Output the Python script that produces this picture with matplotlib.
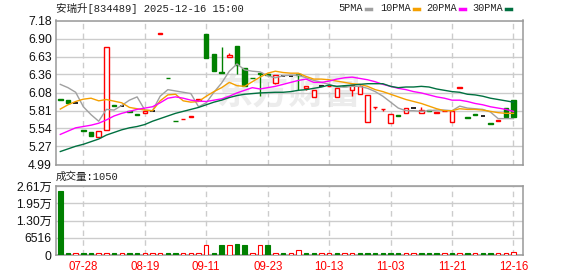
import numpy as np
import matplotlib.pyplot as plt
from matplotlib.lines import Line2D

plt.rcParams['font.family'] = ['DejaVu Sans', 'Noto Sans CJK SC']

###################
# 数据
###################

opens = [5.99, 5.98, 5.92, 5.51, 5.49, 5.41, 5.52, 5.89, 5.88, 5.80,
         5.76, 5.77, 5.81, 6.98, 6.31, 5.66, 5.68, 5.72, 5.98, 6.97,
         6.67, 6.40, 6.62, 6.79, 6.46, 6.31, 6.39, 6.36, 6.23, 6.34,
         6.34, 6.36, 6.15, 6.02, 6.18, 6.18, 6.02, 6.19, 6.12, 6.06,
         5.64, 5.86, 5.83, 5.62, 5.74, 5.77, 5.85, 5.78, 5.82, 5.78,
         5.80, 5.64, 6.16, 5.71, 5.76, 5.73, 5.62, 5.66, 5.85, 5.97]
highs = [5.99, 5.98, 5.92, 5.51, 5.49, 5.50, 6.78, 5.89, 5.88, 5.80,
         5.76, 5.81, 5.81, 6.99, 6.31, 5.66, 5.69, 5.73, 5.99, 6.97,
         6.67, 6.77, 6.69, 6.79, 6.46, 6.31, 6.39, 6.36, 6.35, 6.34,
         6.34, 6.36, 6.18, 6.13, 6.18, 6.19, 6.16, 6.19, 6.20, 6.20,
         6.05, 5.87, 5.84, 5.76, 5.74, 5.85, 5.85, 5.87, 5.82, 5.79,
         5.81, 5.80, 6.17, 5.71, 5.76, 5.73, 5.62, 5.67, 5.85, 5.97]
lows = [5.98, 5.92, 5.92, 5.50, 5.43, 5.41, 5.52, 5.88, 5.88, 5.79,
        5.75, 5.77, 5.81, 6.98, 6.30, 5.65, 5.68, 5.72, 5.98, 6.61,
        6.42, 6.39, 6.62, 6.37, 6.19, 6.30, 6.04, 6.35, 6.22, 6.34,
        6.34, 6.12, 6.13, 6.02, 6.18, 6.18, 6.02, 6.18, 6.04, 6.06,
        5.64, 5.83, 5.80, 5.62, 5.73, 5.77, 5.85, 5.78, 5.81, 5.78,
        5.80, 5.64, 6.16, 5.70, 5.74, 5.73, 5.61, 5.66, 5.72, 5.72]
closes = [5.98, 5.92, 5.92, 5.50, 5.43, 5.50, 6.78, 5.88, 5.88, 5.79,
          5.75, 5.81, 5.81, 6.99, 6.30, 5.65, 5.69, 5.73, 5.99, 6.61,
          6.42, 6.39, 6.65, 6.51, 6.19, 6.30, 6.37, 6.35, 6.35, 6.34,
          6.34, 6.35, 6.18, 6.13, 6.18, 6.19, 6.16, 6.18, 6.20, 6.19,
          6.05, 5.87, 5.84, 5.76, 5.73, 5.85, 5.85, 5.82, 5.81, 5.79,
          5.81, 5.80, 6.17, 5.70, 5.74, 5.73, 5.61, 5.67, 5.72, 5.72]
volumes = [24170, 600, 600, 600, 600, 600, 600, 600, 600, 600,
           600, 600, 600, 600, 600, 600, 600, 600, 600, 3780,
           880, 3780, 3780, 4150, 3780, 800, 3780, 3780, 600, 600,
           600, 1760, 600, 600, 600, 600, 600, 600, 600, 600,
           600, 600, 600, 600, 600, 600, 600, 600, 600, 600,
           600, 600, 600, 600, 600, 600, 600, 600, 600, 1050]

# 均线
ma5 = [6.21, 6.16, 6.09, 5.87, 5.75, 5.65, 5.83, 5.82, 5.89, 5.97,
       6.02, 5.82, 5.81, 6.03, 6.13, 6.11, 6.09, 6.07, 5.87, 5.93,
       6.09, 6.23, 6.41, 6.52, 6.43, 6.41, 6.40, 6.34, 6.31, 6.34,
       6.35, 6.35, 6.31, 6.27, 6.24, 6.21, 6.17, 6.17, 6.18, 6.18,
       6.15, 6.10, 6.03, 5.94, 5.85, 5.81, 5.81, 5.80, 5.81, 5.82,
       5.82, 5.81, 5.88, 5.85, 5.84, 5.83, 5.79, 5.69, 5.69, 5.69]
ma10 = [5.835, 5.90, 5.95, 5.985, 6.00, 5.96, 5.98, 5.955, 5.93, 5.86,
        5.84, 5.82, 5.81, 5.96, 6.05, 6.06, 5.96, 5.94, 5.95, 6.03,
        6.10, 6.16, 6.24, 6.19, 6.18, 6.25, 6.32, 6.38, 6.41, 6.39,
        6.38, 6.38, 6.33, 6.29, 6.29, 6.28, 6.26, 6.24, 6.22, 6.21,
        6.18, 6.13, 6.10, 6.06, 6.02, 5.98, 5.95, 5.92, 5.88, 5.84,
        5.81, 5.81, 5.84, 5.83, 5.83, 5.82, 5.80, 5.78, 5.77, 5.77]
ma20 = [5.45, 5.50, 5.55, 5.57, 5.59, 5.62, 5.67, 5.73, 5.77, 5.80,
        5.83, 5.85, 5.87, 5.93, 6.00, 6.02, 6.00, 5.97, 5.955, 5.95,
        5.97, 5.99, 6.03, 6.08, 6.12, 6.16, 6.14, 6.16, 6.18, 6.21,
        6.24, 6.27, 6.29, 6.24, 6.24, 6.26, 6.29, 6.31, 6.32, 6.30,
        6.28, 6.25, 6.21, 6.18, 6.15, 6.13, 6.10, 6.08, 6.05, 6.02,
        6.00, 5.97, 5.97, 5.95, 5.92, 5.90, 5.87, 5.85, 5.83, 5.80]
ma30 = [5.19, 5.23, 5.27, 5.30, 5.34, 5.38, 5.44, 5.48, 5.52, 5.55,
        5.57, 5.60, 5.65, 5.69, 5.73, 5.77, 5.80, 5.83, 5.86, 5.90,
        5.94, 5.97, 6.01, 6.04, 6.06, 6.07, 6.08, 6.085, 6.09, 6.09,
        6.10, 6.12, 6.13, 6.15, 6.17, 6.20, 6.18, 6.19, 6.20, 6.21,
        6.22, 6.22, 6.22, 6.18, 6.16, 6.17, 6.17, 6.18, 6.17, 6.14,
        6.12, 6.10, 6.09, 6.06, 6.05, 6.03, 6.00, 5.98, 5.96, 5.94]

ma_names = ['5PMA', '10PMA', '20PMA', '30PMA']
ma_colors = ['#a0a0a0', '#f5a000', '#ff00ff', '#007040']

tick_idx = [3, 11, 19, 27, 35, 43, 51, 59]
tick_labels = ['07-28', '08-19', '09-11', '09-23', '10-13', '11-03', '11-21', '12-16']
price_ticks = [4.99, 5.27, 5.54, 5.81, 6.08, 6.36, 6.63, 6.90, 7.18]
vol_ticks = [0, 6516, 13032, 19548, 26064]
vol_tick_labels = ['0', '6516', '1.30万', '1.95万', '2.61万']

title = '安瑞升[834489] 2025-12-16 15:00'

###################
# 绘图
###################

RED, GREEN, BLACK = '#ff0000', '#008000', '#000000'
GRID, FRAME = '#cccccc', '#999999'

o = np.array(opens); h = np.array(highs); l = np.array(lows); c = np.array(closes)
v = np.array(volumes)
x = np.arange(len(c))
up = c > o
dn = c < o
fl = c == o
cols = np.where(up, RED, np.where(dn, GREEN, BLACK))

prev = np.concatenate(([o[0]], c[:-1]))
vup = c >= prev

fig = plt.figure(figsize=(5.78, 2.76), dpi=100)
ax1 = fig.add_axes([56/578, 1-164.7/276, 466.7/578, 144.2/276])
ax2 = fig.add_axes([56/578, 1-255/276, 466.7/578, 69/276])

w = 0.58
# K线
ax1.vlines(x, l, h, colors=cols, lw=1, zorder=2)
ax1.bar(x[up], (c-o)[up], bottom=o[up], width=w, facecolor='white',
        edgecolor=RED, lw=1, zorder=3)
ax1.bar(x[dn], (o-c)[dn], bottom=c[dn], width=w, facecolor=GREEN,
        edgecolor=GREEN, lw=1, zorder=3)
ax1.hlines(c[fl], x[fl]-w/2, x[fl]+w/2, colors=BLACK, lw=1.2, zorder=3)

for ma, col in zip([ma5, ma10, ma20, ma30], ma_colors):
    ax1.plot(x, ma, color=col, lw=1, zorder=4)

# 水印
ax1.text(0.5, 0.5, '东方财富', transform=ax1.transAxes, ha='center', va='center',
         fontsize=26, fontweight='bold', color='#ececec', zorder=0,
         family=['Noto Sans CJK SC'])

# 成交量
ax2.bar(x[vup], v[vup], width=w, facecolor='white', edgecolor=RED, lw=0.8, zorder=3)
ax2.bar(x[~vup], v[~vup], width=w, facecolor=GREEN, edgecolor=GREEN, lw=0.8, zorder=3)

for ax in (ax1, ax2):
    ax.set_xlim(-0.56, 60.2)
    ax.set_xticks(tick_idx)
    ax.yaxis.grid(True, color=GRID, lw=1, ls='-', zorder=0)
    ax.xaxis.grid(True, color=GRID, lw=1, ls=(0, (4, 3)), zorder=0)
    ax.set_axisbelow(True)
    ax.tick_params(length=0, pad=3)
    for s in ax.spines.values():
        s.set_color(FRAME)
        s.set_linewidth(1.1)
        s.set_zorder(1)

ax1.set_ylim(4.99, 7.18)
ax1.set_yticks(price_ticks)
ax1.set_yticklabels(['%.2f' % p for p in price_ticks], family='Liberation Sans',
                    fontsize=8.7, color='#111111')
ax1.set_xticklabels([])

ax2.set_ylim(0, vol_ticks[-1])
ax2.set_yticks(vol_ticks)
ax2.set_yticklabels(vol_tick_labels, fontsize=8.7, color='#111111',
                    family=['Liberation Sans', 'Noto Sans CJK SC'])
ax2.set_xticklabels(tick_labels, family='Liberation Sans', fontsize=8.3, color=RED)
ax2.tick_params(axis='x', pad=4)

# 标题
fig.text(56/578, 1-8/276, title, family=['Liberation Mono', 'Noto Sans CJK SC'],
         fontsize=7.6, va='center', ha='left', color='#222222')
fig.text(56/578, 1-177/276, '成交量:%d' % volumes[-1],
         family=['Liberation Mono', 'Noto Sans CJK SC'],
         fontsize=7.6, va='center', ha='left', color='#222222')

# 图例
leg_x = [338, 380, 426, 472]
for name, col, lx in zip(ma_names, ma_colors, leg_x):
    fig.text(lx/578, 1-8/276, name, family='Liberation Mono', fontsize=7.4,
             va='center', ha='left', color='#222222')
    dx = (len(name)*6 + 4) / 578
    fig.add_artist(Line2D([lx/578 + dx, lx/578 + dx + 5/578], [1-8.5/276, 1-8.5/276],
                          color=col, lw=2.5, transform=fig.transFigure))

fig.savefig('out.png', dpi=100)
